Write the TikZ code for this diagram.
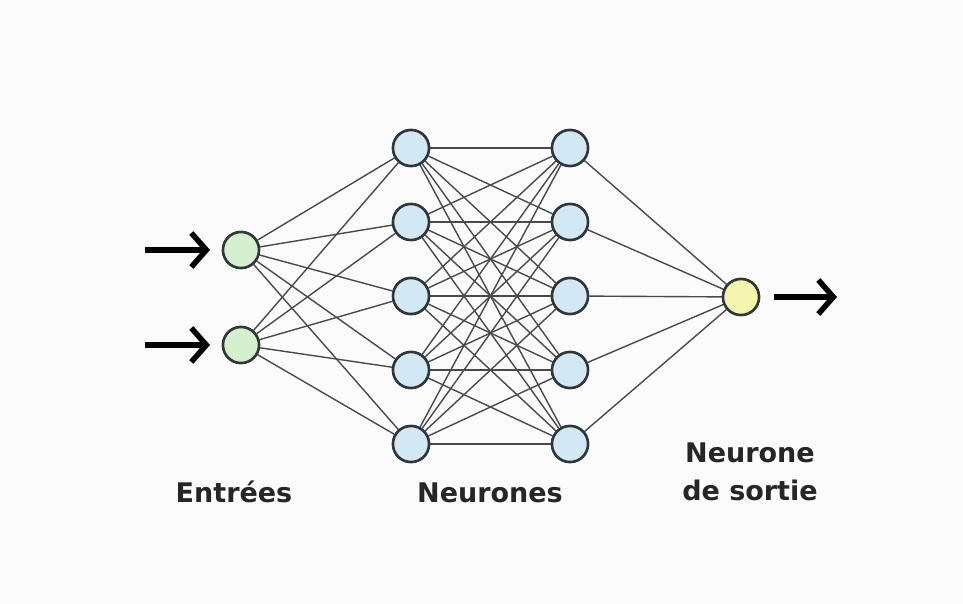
\documentclass[tikz,border=0pt]{standalone}
\usepackage{fontspec}
\setmainfont{DejaVu Sans}
\usetikzlibrary{arrows.meta}
\definecolor{bg}{HTML}{FBFBFB}
\definecolor{edgecol}{HTML}{4A4A4A}
\definecolor{rim}{HTML}{2E3838}
\definecolor{ingreen}{HTML}{D4F0CE}
\definecolor{hidblue}{HTML}{D3E8F5}
\definecolor{outyellow}{HTML}{F5F4AE}
\tikzset{
  neuron/.style={circle, draw=rim, line width=2.5pt, minimum size=36pt, inner sep=0pt},
  inneuron/.style={neuron, fill=ingreen},
  hidneuron/.style={neuron, fill=hidblue},
  outneuron/.style={neuron, fill=outyellow},
  link/.style={draw=edgecol, line width=1.4pt},
  bigarrow/.style={line width=5.5pt, -{Straight Barb[length=15pt,width=34pt,line width=5.5pt]}},
  lbl/.style={font=\fontsize{27}{36}\selectfont\bfseries, text=black!85, anchor=base, inner sep=0pt}
}
\begin{document}
\begin{tikzpicture}[x=1pt,y=-1pt]
\fill[bg] (0,0) rectangle (963,604);
\useasboundingbox (0,0) rectangle (963,604);
% neurons (named)
\node[inneuron] (i1) at (241,250) {};
\node[inneuron] (i2) at (241,345) {};
\foreach \k/\y in {1/148,2/222,3/296,4/370,5/444}{
  \node[hidneuron] (a\k) at (411,\y) {};
  \node[hidneuron] (b\k) at (570,\y) {};
}
\node[outneuron] (o) at (741,297) {};
% links
\foreach \i in {1,2}{
  \foreach \k in {1,...,5}{
    \draw[link] (i\i) -- (a\k);
  }
}
\foreach \k in {1,...,5}{
  \foreach \m in {1,...,5}{
    \draw[link] (a\k) -- (b\m);
  }
  \draw[link] (b\k) -- (o);
}
% redraw neurons on top of links
\node[inneuron] at (i1) {};
\node[inneuron] at (i2) {};
\foreach \k in {1,...,5}{
  \node[hidneuron] at (a\k) {};
  \node[hidneuron] at (b\k) {};
}
\node[outneuron] at (o) {};
% arrows
\coordinate (s1) at (145,250);
\coordinate (e1) at (210,250);
\coordinate (s2) at (145,345);
\coordinate (e2) at (210,345);
\coordinate (s3) at (774,297);
\coordinate (e3) at (837,297);
\draw[bigarrow] (s1) -- (e1);
\draw[bigarrow] (s2) -- (e2);
\draw[bigarrow] (s3) -- (e3);
% labels
\node[lbl] (t1) at (234,502) {Entrées};
\node[lbl] (t2) at (490,502) {Neurones};
\node[lbl] (t3) at (750,462) {Neurone};
\node[lbl] (t4) at (750,500) {de sortie};
\end{tikzpicture}
\end{document}
